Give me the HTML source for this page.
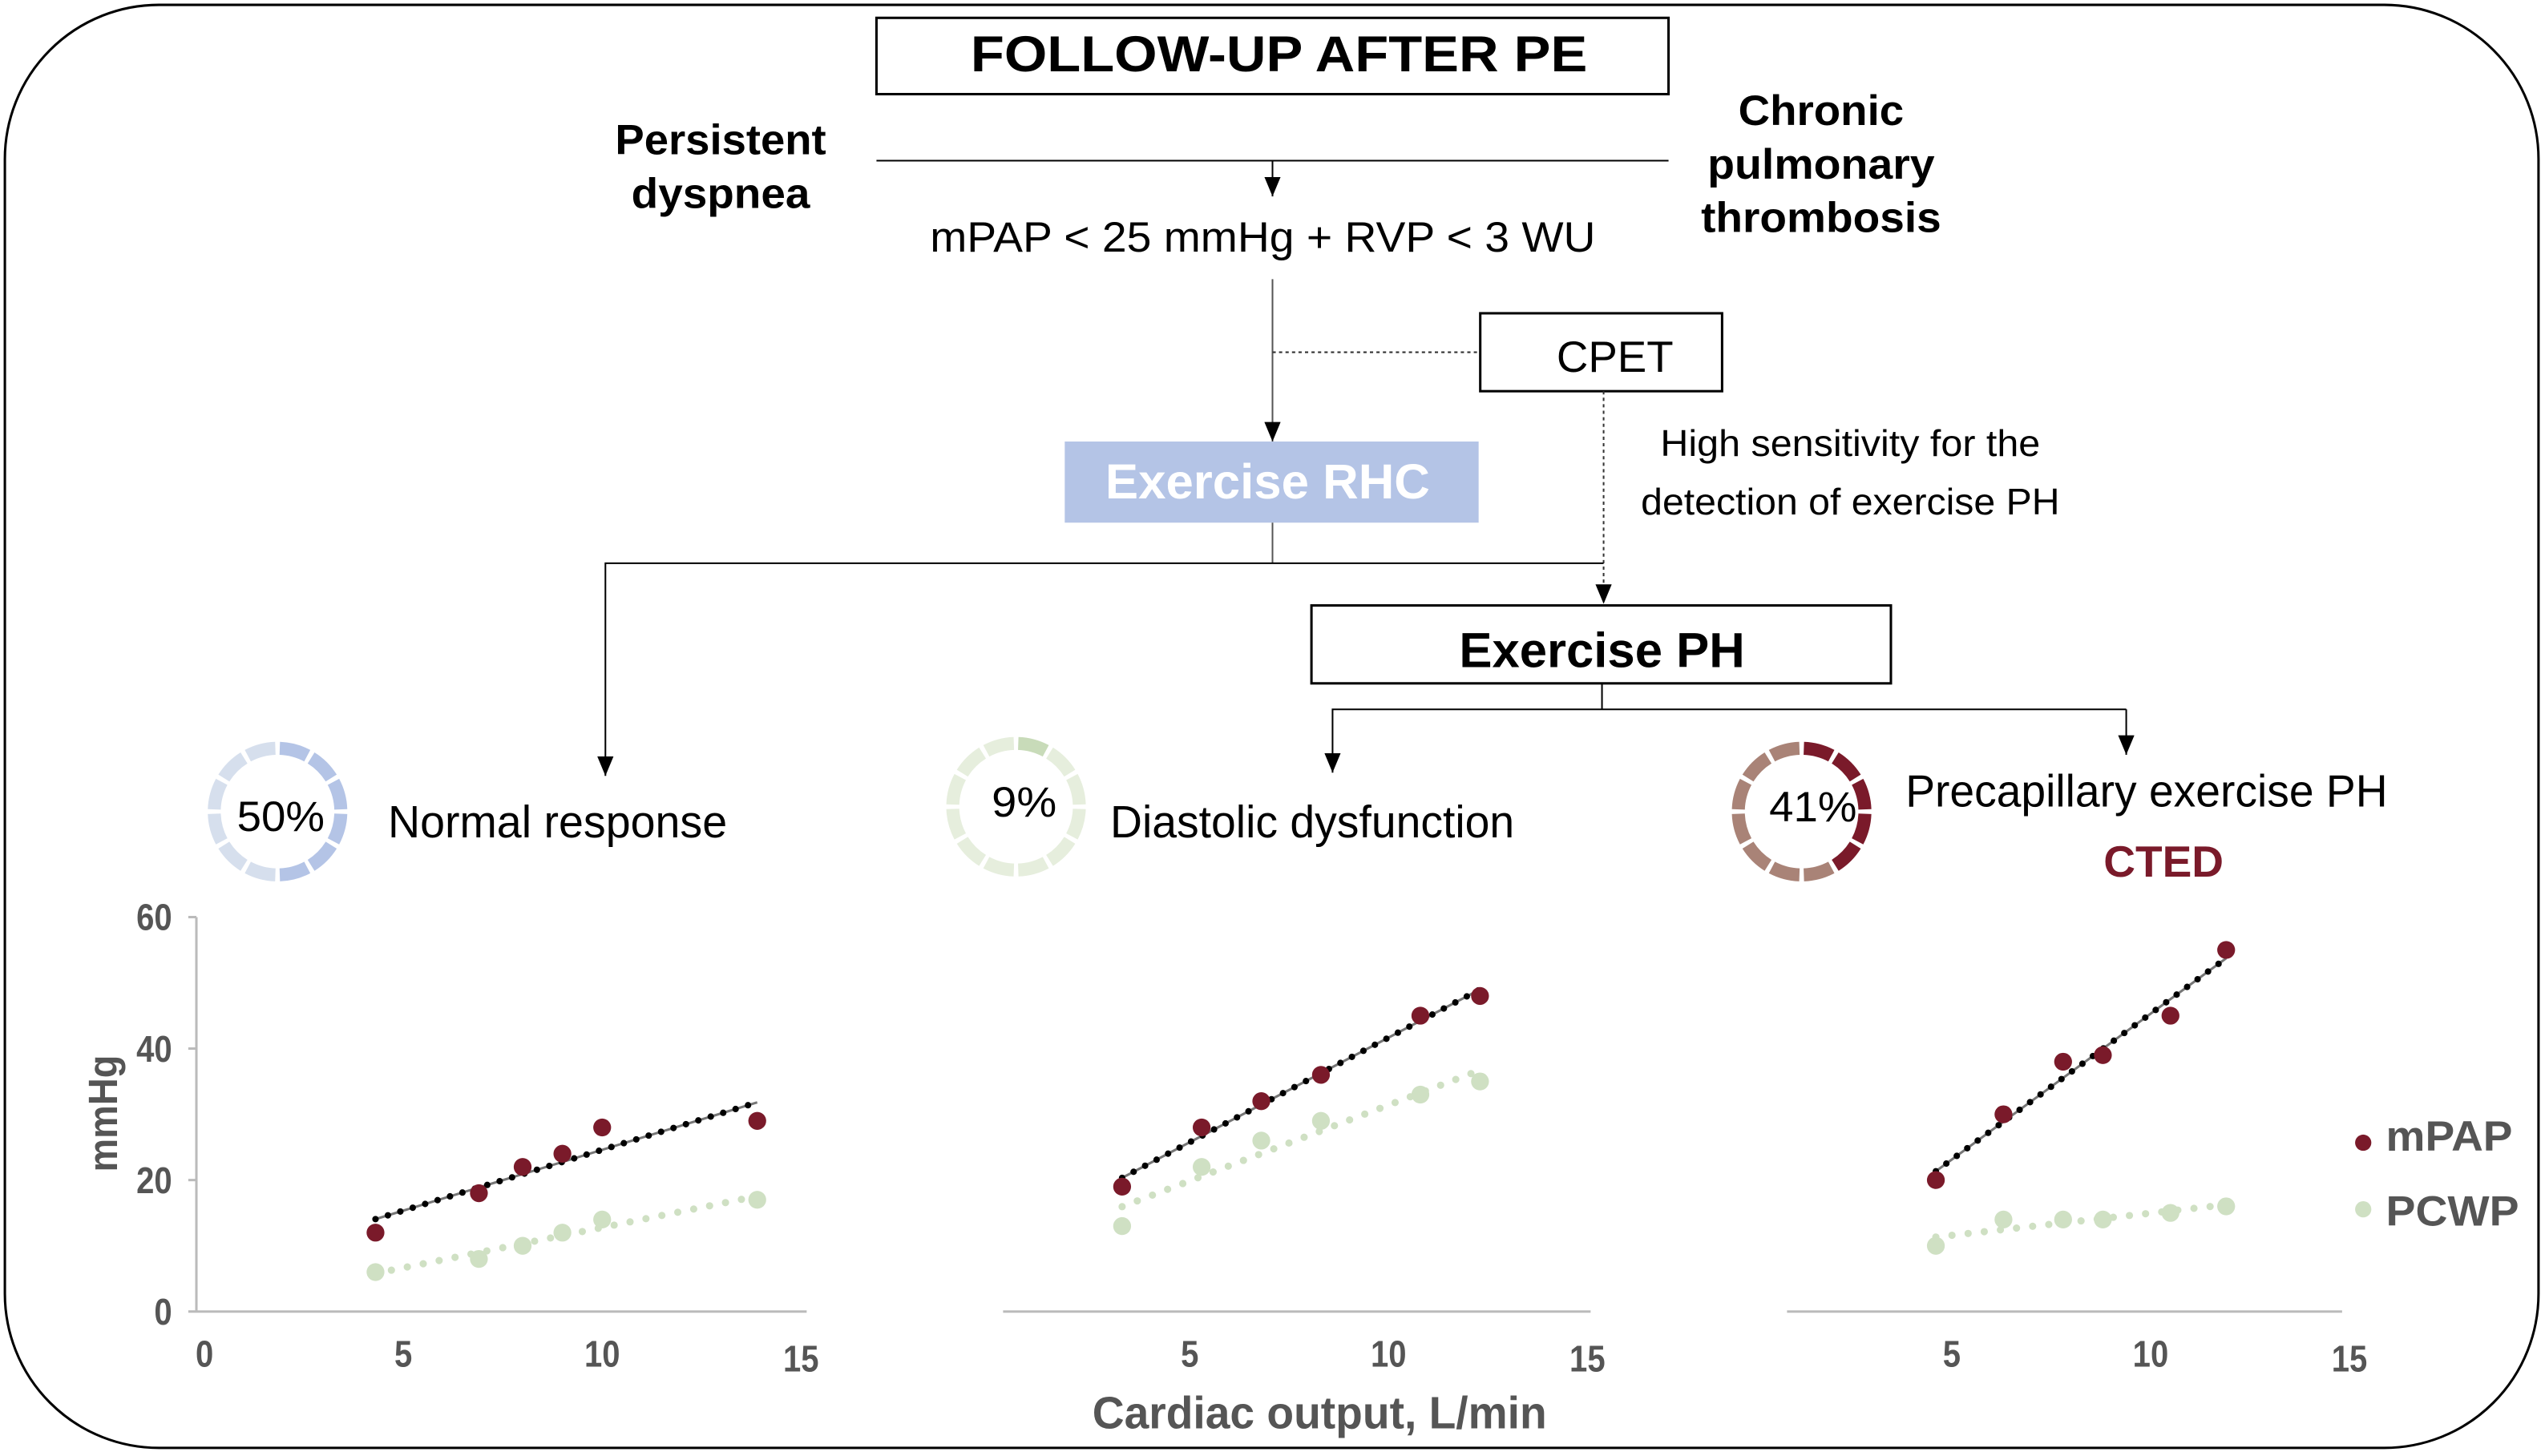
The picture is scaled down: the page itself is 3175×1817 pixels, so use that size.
<!DOCTYPE html>
<html><head><meta charset="utf-8"><style>
html,body{margin:0;padding:0;background:#fff;}
svg{display:block;}
text{font-family:"Liberation Sans Narrow","Liberation Sans",sans-serif;}
</style></head><body>
<svg id="fig" width="3175" height="1817" viewBox="0 0 1568 897" preserveAspectRatio="none" xmlns="http://www.w3.org/2000/svg">
<defs>
<marker id="ah" viewBox="0 0 12 10" refX="12" refY="5" markerWidth="12" markerHeight="10" markerUnits="userSpaceOnUse" orient="auto"><path d="M0,0 L12,5 L0,10 Z" fill="#000"/></marker>
</defs>
<rect x="3" y="3" width="1561" height="889" rx="95" fill="none" stroke="#000" stroke-width="1.5"/>

<g>
<rect x="540" y="11" width="488" height="47" fill="#fff" stroke="#000" stroke-width="1.5"/>
<text x="788" y="44" text-anchor="middle" font-size="31" font-weight="bold" textLength="380">FOLLOW-UP AFTER PE</text>
<text x="444" y="95" text-anchor="middle" font-size="26" font-weight="bold" textLength="130">Persistent</text>
<text x="444" y="128" text-anchor="middle" font-size="26" font-weight="bold" textLength="110">dyspnea</text>
<text x="1122" y="77" text-anchor="middle" font-size="26" font-weight="bold" textLength="102">Chronic</text>
<text x="1122" y="110" text-anchor="middle" font-size="26" font-weight="bold" textLength="140">pulmonary</text>
<text x="1122" y="143" text-anchor="middle" font-size="26" font-weight="bold" textLength="148">thrombosis</text>
<line x1="540" y1="99" x2="1028" y2="99" stroke="#000" stroke-width="1"/>
<line x1="784" y1="99" x2="784" y2="121" stroke="#000" stroke-width="1" marker-end="url(#ah)"/>
<text x="778" y="155" text-anchor="middle" font-size="26" textLength="410">mPAP &lt; 25 mmHg + RVP &lt; 3 WU</text>
<line x1="784" y1="172" x2="784" y2="272" stroke="#555" stroke-width="1" marker-end="url(#ah)"/>
<line x1="784" y1="217" x2="912" y2="217" stroke="#333" stroke-width="1" stroke-dasharray="2,2"/>
<rect x="912" y="193" width="149" height="48" fill="#fff" stroke="#000" stroke-width="1.5"/>
<text x="995" y="229" text-anchor="middle" font-size="27" textLength="72">CPET</text>
<line x1="988" y1="241" x2="988" y2="372" stroke="#333" stroke-width="1" stroke-dasharray="2,2" marker-end="url(#ah)"/>
<text x="1140" y="281" text-anchor="middle" font-size="23" textLength="234">High sensitivity for the</text>
<text x="1140" y="317" text-anchor="middle" font-size="23" textLength="258">detection of exercise PH</text>
<rect x="656" y="272" width="255" height="50" fill="#b4c4e6"/>
<text x="781" y="307" text-anchor="middle" font-size="30" font-weight="bold" fill="#fff" textLength="200">Exercise RHC</text>
<polyline points="784,322 784,347" fill="none" stroke="#555" stroke-width="1"/>
<polyline points="988,347 373,347 373,478" fill="none" stroke="#000" stroke-width="1" marker-end="url(#ah)"/>
<rect x="808" y="373" width="357" height="48" fill="#fff" stroke="#000" stroke-width="1.5"/>
<text x="987" y="411" text-anchor="middle" font-size="30" font-weight="bold" textLength="176">Exercise PH</text>
<polyline points="987,421 987,437" fill="none" stroke="#000" stroke-width="1"/>
<polyline points="1310,437 821,437 821,476" fill="none" stroke="#000" stroke-width="1" marker-end="url(#ah)"/>
<line x1="1310" y1="437" x2="1310" y2="465" stroke="#000" stroke-width="1" marker-end="url(#ah)"/>
</g>

<g id="donuts"></g>
<text x="173" y="512" text-anchor="middle" font-size="26" textLength="54">50%</text>
<text x="239" y="516" font-size="28" textLength="209">Normal response</text>
<text x="631" y="503" text-anchor="middle" font-size="26" textLength="40">9%</text>
<text x="684" y="516" font-size="28" textLength="249">Diastolic dysfunction</text>
<text x="1117" y="506" text-anchor="middle" font-size="26" textLength="54">41%</text>
<text x="1174" y="497" font-size="28" textLength="297">Precapillary exercise PH</text>
<text x="1333" y="540" text-anchor="middle" font-size="27" font-weight="bold" fill="#7a1a2a" textLength="74">CTED</text>

<g id="charts"></g>
<text x="72" y="686" text-anchor="middle" font-size="25" font-weight="bold" fill="#555" transform="rotate(-90 72 686)" textLength="72">mmHg</text>
<text x="813" y="880" text-anchor="middle" font-size="28" font-weight="bold" fill="#555" textLength="280">Cardiac output, L/min</text>
<g>
<circle cx="1456" cy="704" r="5" fill="#7a1a2a"/>
<text x="1470" y="709" font-size="26" font-weight="bold" fill="#555" textLength="78">mPAP</text>
<circle cx="1456" cy="745" r="5" fill="#cfe0c3"/>
<text x="1470" y="755" font-size="26" font-weight="bold" fill="#555" textLength="82">PCWP</text>
</g>
</svg>
<script>
const NS='http://www.w3.org/2000/svg';
// data
const panelNames=['normal','diastolic','precapillary'];
const coNormal=[4.3,6.9,8,9,10,13.9];
const mpapNormal=[12,18,22,24,28,29];
const pcwpNormal=[6,8,10,12,14,17];
const coDiastolic=[3.3,5.3,6.8,8.3,10.8,12.3];
const mpapDiastolic=[19,28,32,36,45,48];
const pcwpDiastolic=[13,22,26,29,33,35];
const coPrecap=[4.6,6.3,7.8,8.8,10.5,11.9];
const mpapPrecap=[20,30,38,39,45,55];
const pcwpPrecap=[10,14,14,14,15,16];
const yTicks=[0,20,40,60];
const xTicksFirst=[0,5,10,15];
const xTicksOther=[5,10,15];
const donutPct=[50,9,41];

const panels=[
 {x0:126,axL:121,axR:497,co:coNormal,m:mpapNormal,p:pcwpNormal,ticks:xTicksFirst,yAxis:true},
 {x0:610.5,axL:618,axR:980,co:coDiastolic,m:mpapDiastolic,p:pcwpDiastolic,ticks:xTicksOther,yAxis:false},
 {x0:1080,axL:1101,axR:1443,co:coPrecap,m:mpapPrecap,p:pcwpPrecap,ticks:xTicksOther,yAxis:false}
];
const yScale=v=>808-v*(243/60);
const charts=document.getElementById('charts');
function mk(tag,attrs,parent){const e=document.createElementNS(NS,tag);for(const k in attrs)e.setAttribute(k,attrs[k]);parent.appendChild(e);return e;}
function fit(xs,ys){const n=xs.length;let sx=0,sy=0,sxx=0,sxy=0;for(let i=0;i<n;i++){sx+=xs[i];sy+=ys[i];sxx+=xs[i]*xs[i];sxy+=xs[i]*ys[i];}const b=(n*sxy-sx*sy)/(n*sxx-sx*sx);return [b,(sy-b*sx)/n];}
panels.forEach((P,pi)=>{
 const g=mk('g',{},charts);
 
 
 const xS=v=>P.x0+v*24.5;
 const ax=mk('line',{x1:P.axL,y1:808,x2:P.axR,y2:808,stroke:'#bbb','stroke-width':1.5},g);
 
 
 P.ticks.forEach(t=>{const tx=mk('text',{x:xS(t),y:t===15?845:842,'text-anchor':'middle','font-size':23,'font-weight':'bold',fill:'#555',textLength:String(t).length*11,lengthAdjust:'spacingAndGlyphs'},g);tx.textContent=t;
  
  });
 if(P.yAxis){
  const ya=mk('line',{x1:121,y1:565,x2:121,y2:808,stroke:'#bbb','stroke-width':1.5},g);
  
  
  yTicks.forEach(t=>{mk('line',{x1:116,x2:121,y1:yScale(t),y2:yScale(t),stroke:'#bbb','stroke-width':1.5},g);
   const tx=mk('text',{x:106,y:yScale(t)+8,'text-anchor':'end','font-size':23,'font-weight':'bold',fill:'#555',textLength:String(t).length*11,lengthAdjust:'spacingAndGlyphs'},g);tx.textContent=t;
   
   });
 }
 [[P.p,'#cfe0c3','pcwp'],[P.m,'#7a1a2a','mpap']].forEach(([ys,col,nm])=>{
  const [b,a]=fit(P.co,ys);const x1=P.co[0],x2=P.co[P.co.length-1];
  if(nm==='mpap'){
   mk('line',{x1:xS(x1),y1:yScale(a+b*x1),x2:xS(x2),y2:yScale(a+b*x2),stroke:'#777','stroke-width':1.5},g);
   const tl=mk('line',{x1:xS(x1),y1:yScale(a+b*x1),x2:xS(x2),y2:yScale(a+b*x2),stroke:'#000','stroke-width':4,'stroke-linecap':'round','stroke-dasharray':'0 8'},g);
   
   
  } else {
   const tl=mk('line',{x1:xS(x1),y1:yScale(a+b*x1),x2:xS(x2),y2:yScale(a+b*x2),stroke:'#cfe0c3','stroke-width':4.5,'stroke-linecap':'round','stroke-dasharray':'0 10'},g);
   
   
  }
  ys.forEach((v,i)=>{const c=mk('circle',{cx:xS(P.co[i]),cy:yScale(v),r:5.5,fill:col},g);
   
   });
 });
});
// donuts
const donuts=document.getElementById('donuts');
const dCfg=[{cx:171,cy:500,dark:'#b4c4e6',light:'#d6dfed'},{cx:626,cy:497,dark:'#c8dbb9',light:'#e6eedd'},{cx:1110,cy:500,dark:'#7a1a2a',light:'#a98377'}];
dCfg.forEach((d,di)=>{
 const g=mk('g',{},donuts);
 
 
 const r=39,n=12,gap=2;
 const darkSegs=Math.round(donutPct[di]/100*n);
 for(let i=0;i<n;i++){
  const a0=(i*30+gap)*Math.PI/180,a1=((i+1)*30-gap)*Math.PI/180;
  const p=a=>[d.cx+r*Math.sin(a),d.cy-r*Math.cos(a)];
  const [x0,y0]=p(a0),[x1,y1]=p(a1);
  const seg=mk('path',{d:`M${x0},${y0} A${r},${r} 0 0 1 ${x1},${y1}`,fill:'none',stroke:i<Math.max(darkSegs,1)?d.dark:d.light,'stroke-width':8},g);
  
  
 }
});
document.querySelectorAll('text[textLength]').forEach(t=>t.setAttribute('lengthAdjust','spacingAndGlyphs'));
</script>
</body></html>
